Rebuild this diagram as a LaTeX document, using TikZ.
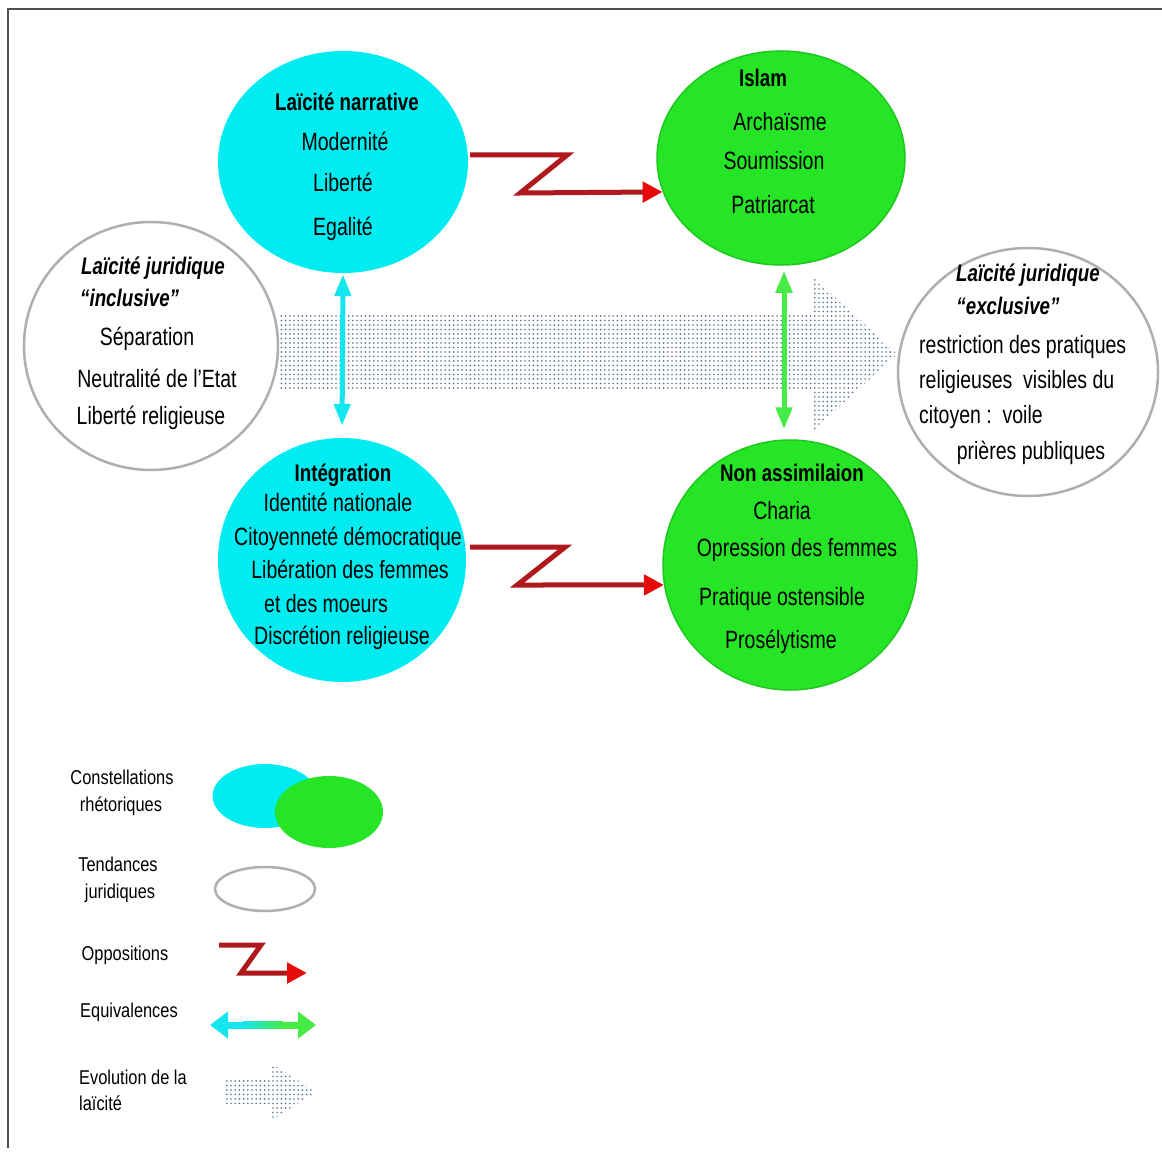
\documentclass[tikz,border=0pt]{standalone}
\usepackage{fontspec}
\setmainfont[FakeStretch=0.78]{Liberation Sans}
\newfontfamily\legfont[FakeStretch=0.82]{Liberation Sans}
\usetikzlibrary{shapes.geometric,arrows.meta,patterns,calc}
\pgfdeclarepatternformonly{evodots}{\pgfqpoint{-1pt}{-1pt}}{\pgfqpoint{1pt}{1pt}}{\pgfqpoint{4.2pt}{4.5pt}}{\pgfpathcircle{\pgfqpoint{0pt}{0pt}}{0.95pt}\pgfusepath{fill}}
\definecolor{cyanfill}{RGB}{0,236,240}
\definecolor{greenfill}{RGB}{38,228,38}
\definecolor{greenedge}{RGB}{30,200,30}
\definecolor{greyedge}{RGB}{175,175,175}
\definecolor{oppline}{RGB}{175,25,30}
\definecolor{opptip}{RGB}{230,10,10}
\definecolor{eqcyan}{RGB}{20,230,240}
\definecolor{eqgreen}{RGB}{70,235,70}
\definecolor{dotcol}{RGB}{95,120,145}
\definecolor{framecol}{RGB}{80,80,80}
\tikzset{
  rhetc/.style={ellipse, fill=cyanfill, draw=none, inner sep=0pt},
  rhetg/.style={ellipse, fill=greenfill, draw=greenedge, line width=1.5pt, inner sep=0pt},
  jur/.style={ellipse, fill=white, draw=greyedge, line width=2.5pt, inner sep=0pt},
  txt/.style={inner sep=0pt, font={\fontsize{25}{30}\selectfont}, text height=19pt, text depth=3pt},
  ttl/.style={txt, font={\fontsize{24}{30}\selectfont\bfseries}},
  jttl/.style={txt, font={\fontsize{24}{30}\selectfont\bfseries\itshape}},
  leg/.style={inner sep=0pt, font={\legfont\fontsize{20}{24}\selectfont}, text height=15pt, text depth=3pt},
  opp/.style={draw=oppline, line width=5pt, -{Triangle[length=20pt,width=20pt,color=opptip]}},
  eqc/.style={draw=eqcyan, line width=5pt, {Triangle[length=22pt,width=16pt]}-{Triangle[length=22pt,width=16pt]}},
  eqg/.style={draw=eqgreen, line width=5pt, {Triangle[length=22pt,width=16pt]}-{Triangle[length=22pt,width=16pt]}},
  evo/.style={pattern=evodots, pattern color=dotcol}
}
\begin{document}
\begin{tikzpicture}[x=1pt,y=-1pt]
\useasboundingbox (0,0) rectangle (1162,1153);
\fill[white] (0,0) rectangle (1162,1153);
\draw[framecol, line width=2pt] (8,1148) -- (8,9) -- (1162,9);

% evolution of laicite (dotted arrow)
\path[evo] (278,313) -- (812,313) -- (812,276) -- (897,354) -- (812,432) -- (812,390) -- (278,390) -- cycle;

% ellipses
\node[rhetc, minimum width=250pt, minimum height=222pt] (A) at (343,162) {};
\node[rhetg, minimum width=248pt, minimum height=214pt] (B) at (781,158) {};
\node[jur, minimum width=254pt, minimum height=248pt] (C) at (151,346) {};
\node[jur, minimum width=260pt, minimum height=248pt] (D) at (1028,372) {};
\node[rhetc, minimum width=248pt, minimum height=244pt] (E) at (342,560) {};
\node[rhetg, minimum width=254pt, minimum height=250pt] (F) at (790,565) {};

% texts A
\node[ttl] (a0) at (347,103) {Laïcité narrative};
\node[txt] (a1) at (345,143) {Modernité};
\node[txt] (a2) at (343,183) {Liberté};
\node[txt] (a3) at (343,227) {Egalité};
% texts B
\node[ttl] (b0) at (763,79) {Islam};
\node[txt] (b1) at (780,123) {Archaïsme};
\node[txt] (b2) at (774,162) {Soumission};
\node[txt] (b3) at (773,205) {Patriarcat};
% texts C
\node[jttl] (c0) at (153,266) {Laïcité juridique};
\node[jttl, anchor=west] (c1) at (80,298) {“inclusive”};
\node[txt] (c2) at (147,337) {Séparation};
\node[txt] (c3) at (157,379) {Neutralité de l'Etat};
\node[txt] (c4) at (151,416) {Liberté religieuse};
% texts D
\node[jttl] (d0) at (1028,273) {Laïcité juridique};
\node[jttl] (d1) at (1008,306) {“exclusive”};
\node[txt, anchor=west] (d2) at (919,345) {restriction des pratiques};
\node[txt, anchor=west] (d3) at (919,380) {religieuses\ \ visibles du};
\node[txt, anchor=west] (d4) at (919,415) {citoyen :\ \ voile};
\node[txt] (d5) at (1031,451) {prières publiques};
% texts E
\node[ttl] (e0) at (343,473) {Intégration};
\node[txt] (e1) at (338,503) {Identité nationale};
\node[txt] (e2) at (348,537) {Citoyenneté démocratique};
\node[txt] (e3) at (350,570) {Libération des femmes};
\node[txt] (e4) at (326,604) {et des moeurs};
\node[txt] (e5) at (342,636) {Discrétion religieuse};
% texts F
\node[ttl] (f0) at (792,473) {Non assimilaion};
\node[txt] (f1) at (782,511) {Charia};
\node[txt] (f2) at (797,548) {Opression des femmes};
\node[txt] (f3) at (782,597) {Pratique ostensible};
\node[txt] (f4) at (781,640) {Prosélytisme};

% oppositions
\draw[opp] ($(A.east)+(2,-7)$) -- ++(97,0) -- ++(-47,38) -- (B.196);
\draw[opp] ($(E.east)+(4,-13)$) -- ++(95,0) -- ++(-48,38) -- (F.189);
% equivalences
\draw[eqc, shorten <=1pt, shorten >=12pt] (A.south) -- (E.north);
\draw[eqg, shorten <=5pt, shorten >=10pt] ([xshift=3pt]B.south) -- ([xshift=3pt]B.south |- F.north);

% legend
\node[leg] (l1a) at (122,778) {Constellations};
\node[leg] (l1b) at (121,805) {rhétoriques};
\node[rhetc, minimum width=105pt, minimum height=64pt] (lc) at (265,796) {};
\node[rhetg, draw=none, minimum width=108pt, minimum height=72pt] (lg) at (329,812) {};
\node[leg] (l2a) at (118,865) {Tendances};
\node[leg] (l2b) at (120,892) {juridiques};
\node[jur, minimum width=100pt, minimum height=44pt] (lj) at (265,889) {};
\node[leg] (l3) at (125,954) {Oppositions};
\coordinate (lz1) at (219,945);
\coordinate (lz2) at (307,973);
\draw[opp] (lz1) -- ++(42,0) -- ++(-20,28) -- (lz2);
\node[leg] (l4) at (129,1011) {Equivalences};
\coordinate (le1) at (210,1025);
\coordinate (lem) at (263,1025);
\coordinate (le2) at (316,1025);
\draw[draw=eqcyan, line width=7pt, {Triangle[length=18pt,width=26pt]}-] (le1) -- (lem);
\draw[draw=eqgreen, line width=7pt, -{Triangle[length=18pt,width=26pt]}] (lem) -- (le2);
\shade[left color=eqcyan, right color=eqgreen] (243,1021.5) rectangle (283,1028.5);
\node[leg, anchor=west] (l5a) at (79,1078) {Evolution de la};
\node[leg, anchor=west] (l5b) at (79,1104) {laïcité};
\path[evo] (224,1078) -- (272,1078) -- (272,1064) -- (316,1092) -- (272,1120) -- (272,1104) -- (224,1104) -- cycle;
\end{tikzpicture}
\end{document}
